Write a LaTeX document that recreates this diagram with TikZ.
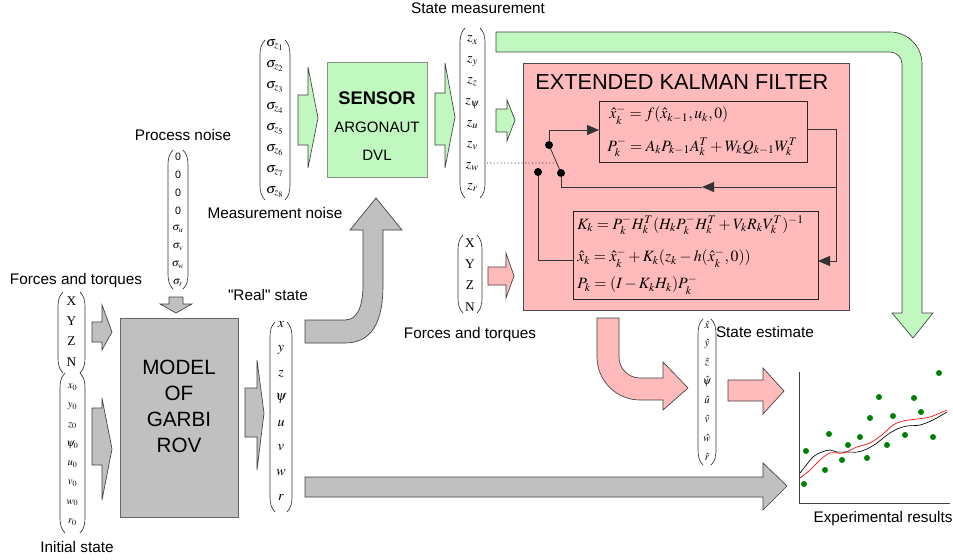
\documentclass[tikz,border=0pt]{standalone}
\usepackage{mathptmx}
\usepackage[no-math]{fontspec}
\setmainfont{Liberation Sans}
\newfontfamily\plainsans{Liberation Sans}
\newfontfamily\timesfont{Liberation Serif}
\usetikzlibrary{arrows.meta,fit,calc}
\definecolor{lgreen}{RGB}{192,248,192}
\definecolor{lpink}{RGB}{255,187,187}
\definecolor{lgray}{RGB}{192,192,192}
\definecolor{dotgreen}{RGB}{0,128,0}

% column vector: name, entry style, x left, x right, top, bottom, first y, step, entries
\newcommand\colvec[9]{%
  \draw[paren] (#3+5,#5) .. controls (#3+1,#5+4) and (#3,#5+9) .. (#3,#5+15) -- (#3,#6-15) .. controls (#3,#6-9) and (#3+1,#6-4) .. (#3+5,#6);
  \draw[paren] (#4-5,#5) .. controls (#4-1,#5+4) and (#4,#5+9) .. (#4,#5+15) -- (#4,#6-15) .. controls (#4,#6-9) and (#4-1,#6-4) .. (#4-5,#6);
  \foreach \e [count=\i from 0] in {#9} \node[#2] (#1\i) at ({(#3+#4)/2},{#7+#8*\i}) {\e};
}

\begin{document}
\begin{tikzpicture}[x=0.75pt,y=-0.75pt,
  paren/.style={line width=0.5pt,draw=black!80},
  lbl/.style={font=\fontsize{11.5}{13}\selectfont,inner sep=0},
  entA/.style={font=\fontsize{10.5}{12}\selectfont,inner sep=0},
  entB/.style={font=\fontsize{8}{9}\selectfont,inner sep=0},
  entC/.style={font=\timesfont\fontsize{10}{12}\selectfont,inner sep=0},
  blk/.style={draw=black!75,line width=0.5pt},
  box/.style={inner sep=0,line width=0.6pt},
  eq/.style={font=\fontsize{11.8}{13}\selectfont,inner sep=0,anchor=west},
  wire/.style={line width=0.6pt,draw=black!80},
  tip/.style={-{Triangle[length=9pt,width=7.5pt]}},
  swdot/.style={circle,fill=black,inner sep=0,minimum size=6pt}]
\useasboundingbox (0,0) rectangle (953,560);

% ---------- labels ----------
\node[lbl] (lblMeas) at (478,8) {State measurement};
\node[lbl] (lblProc) at (183,135) {Process noise};
\node[lbl] (lblMnoise) at (275,213) {Measurement noise};
\node[lbl] (lblFT1) at (76,281) {Forces and torques};
\node[lbl] (lblReal) at (268,295) {\plainsans "Real" state};
\node[lbl] (lblInit) at (77,547) {Initial state};
\node[lbl] (lblFT2) at (470,335) {Forces and torques};
\node[lbl] (lblEst) at (765,332) {State estimate};
\node[lbl] (lblExp) at (883,519) {Experimental results};

% ---------- block arrows ----------
% green: noise -> sensor, sensor -> measurement, measurement -> filter
\filldraw[blk,fill=lgreen] (298,95) -- (308,95) -- (308,67) -- (318,118) -- (308,168) -- (308,145) -- (298,145) -- cycle;
\filldraw[blk,fill=lgreen] (435,93) -- (445,93) -- (445,63) -- (455,117) -- (445,168) -- (445,145) -- (435,145) -- cycle;
\filldraw[blk,fill=lgreen] (496,109) -- (507,109) -- (507,100) -- (515,120) -- (507,141) -- (507,132) -- (496,132) -- cycle;
% green: measurement -> results
\filldraw[blk,fill=lgreen] (496,32) -- (890,32) .. controls (907.7,32) and (922,46.3) .. (922,64) -- (922,313) -- (933,313) -- (913,338) -- (892,313) -- (902,313) -- (902,64) .. controls (902,57.4) and (896.6,52) .. (890,52) -- (496,52) -- cycle;
% pink: forces -> filter, filter -> estimate, estimate -> results
\filldraw[blk,fill=lpink] (488,267) -- (506,267) -- (506,253) -- (514,276) -- (506,298) -- (506,285) -- (488,285) -- cycle;
\filldraw[blk,fill=lpink] (597,318) -- (619,318) -- (619,357) .. controls (619,368.6) and (628.4,378) .. (640,378) -- (663,378) -- (663,362) -- (688,388) -- (663,410) -- (663,400) -- (640,400) .. controls (616.3,400) and (597,380.7) .. (597,357) -- cycle;
\filldraw[blk,fill=lpink] (728,380) -- (763,380) -- (763,368) -- (784,391) -- (763,414) -- (763,401) -- (728,401) -- cycle;
% gray: inputs -> model, model -> state, state -> sensor, state -> results
\filldraw[blk,fill=lgray] (169,297) -- (183,297) -- (183,304) -- (192,304) -- (176,313) -- (160,304) -- (169,304) -- cycle;
\filldraw[blk,fill=lgray] (92,322) -- (102,322) -- (102,305) -- (112,332) -- (102,350) -- (102,342) -- (92,342) -- cycle;
\filldraw[blk,fill=lgray] (92,408) -- (102,408) -- (102,398) -- (112,449) -- (102,500) -- (102,465) -- (92,465) -- cycle;
\filldraw[blk,fill=lgray] (245,388) -- (257,388) -- (257,360) -- (264,413) -- (257,470) -- (257,437) -- (245,437) -- cycle;
\filldraw[blk,fill=lgray] (305,320) -- (345,320) .. controls (358,320) and (363,305) .. (363,285) -- (363,230) -- (350,230) -- (376,198) -- (402,230) -- (383,230) -- (383,285) .. controls (383,325) and (370,343) .. (345,343) -- (305,343) -- cycle;
\filldraw[blk,fill=lgray] (305,477) -- (763,477) -- (763,463) -- (787,486) -- (763,510) -- (763,497) -- (305,497) -- cycle;

% ---------- vectors ----------
\colvec{sg}{entA}{260}{290}{40}{200}{45}{21}{$\sigma_{z_1}$,$\sigma_{z_2}$,$\sigma_{z_3}$,$\sigma_{z_4}$,$\sigma_{z_5}$,$\sigma_{z_6}$,$\sigma_{z_7}$,$\sigma_{z_8}$}
\colvec{zm}{entA}{460}{485}{28}{198}{40}{21.1}{$z_x$,$z_y$,$z_z$,$z_\psi$,$z_u$,$z_v$,$z_w$,$z_r$}
\colvec{pn}{entB}{168}{188}{150}{289}{157}{18}{0,0,0,0,$\sigma_u$,$\sigma_v$,$\sigma_w$,$\sigma_r$}
\colvec{fa}{entC}{58}{85}{292}{373}{301}{20.3}{X,Y,Z,N}
\colvec{is}{entB}{60}{85}{373}{533}{387}{19.3}{$x_0$,$y_0$,$z_0$,$\psi_0$,$u_0$,$v_0$,$w_0$,$r_0$}
\colvec{rs}{entA}{270}{292}{322}{512}{325}{24.6}{$x$,$y$,$z$,$\psi$,$u$,$v$,$w$,$r$}
\colvec{fb}{entC}{458}{482}{235}{313}{243}{21.3}{X,Y,Z,N}
\colvec{se}{entB}{698}{716}{319}{465}{325}{18.8}{$\hat x$,$\hat y$,$\hat z$,$\hat\psi$,$\hat u$,$\hat v$,$\hat w$,$\hat r$}

% ---------- sensor ----------
\node[box,fit={(327,62) (427,177)},draw=black!45,fill=lgreen] (sensor) {};
\node[font=\bfseries\fontsize{13.7}{15}\selectfont] (sensorA) at (377,98) {SENSOR};
\node[font=\fontsize{11.3}{13}\selectfont] (sensorB) at (377,127) {ARGONAUT};
\node[font=\fontsize{11.3}{13}\selectfont] (sensorC) at (377,155) {DVL};

% ---------- model ----------
\node[box,fit={(120,318) (238,517)},draw=black!60,fill=lgray] (model) {};
\foreach \t/\y [count=\i] in {MODEL/367,OF/393,GARBI/419,ROV/445}
  \node[font=\fontsize{15.5}{17}\selectfont] (modelT\i) at (179,\y) {\t};

% ---------- extended Kalman filter ----------
\node[box,fit={(523,63) (849,310)},draw=black!70,fill=lpink] (ekf) {};
\node[font=\fontsize{16.3}{18}\selectfont,anchor=west,inner sep=0] (ekfT) at (535,82) {EXTENDED KALMAN FILTER};
\node[box,fit={(599,101) (807,162)},draw=black!85,fill=lpink] (pred) {};
\node[box,fit={(573,211) (818,299)},draw=black!85,fill=lpink] (upd) {};
\node[eq] (eq1) at (609,115) {$\hat{x}_k^- = f(\hat{x}_{k-1},u_k,0)$};
\node[eq] (eq2) at (607,147) {$P_k^- = A_kP_{k-1}A_k^T + W_kQ_{k-1}W_k^T$};
\node[eq] (eq3) at (577,225) {$K_k = P_k^-H_k^T(H_kP_k^-H_k^T + V_kR_kV_k^T)^{-1}$};
\node[eq] (eq4) at (577,258) {$\hat{x}_k = \hat{x}_k^- + K_k(z_k - h(\hat{x}_k^-,0))$};
\node[eq] (eq5) at (577,285) {$P_k = (I - K_kH_k)P_k^-$};

% switch and feedback wiring
\coordinate (swA) at (549,145);
\coordinate (swB) at (561,173);
\coordinate (swC) at (538,172);
\coordinate (predIn) at (599,130);
\coordinate (predOut) at (807,129);
\coordinate (fbR) at (836,187);
\coordinate (fbMid) at (702,187);
\coordinate (fbL) at (561,187);
\coordinate (updIn) at (818,261);
\coordinate (updL) at (573,260);
\coordinate (zmOut) at (487,163);
\draw[wire,tip] (swA) |- (predIn);
\draw[wire] (predOut) -| (fbR);
\draw[wire,tip] (fbR) |- (updIn);
\draw[wire,tip] (fbR) -- (fbMid);
\draw[wire] (fbMid) -- (fbL) -- (swB);
\draw[wire] (swC) |- (updL);
\draw[wire] (swA) -- (swB);
\draw[dotted,line width=0.6pt] (zmOut) -- ($(swA)!0.64!(swB)$);
\node[swdot] (swAdot) at (swA) {};
\node[swdot] (swBdot) at (swB) {};
\node[swdot] (swCdot) at (swC) {};

% ---------- results chart ----------
\draw[line width=0.6pt,draw=black!75] (799,372) -- (799,503) -- (950,503);
\draw[black,line width=0.5pt] plot[smooth] coordinates {(800,473) (813,457) (822,452) (830,450) (837,452) (847,452) (858,452) (867,449) (877,443) (887,435) (897,429) (907,426) (920,425) (933,420) (947,412)};
\draw[red,line width=0.5pt] plot[smooth] coordinates {(800,478) (810,470) (820,460) (830,453) (843,453) (857,447) (870,443) (883,434) (893,425) (903,421) (917,419) (930,417) (947,410)};
\foreach \p in {(806,451),(804,484),(829,434),(825,470),(842,460),(848,445),(860,437),(867,458),(870,418),(879,397),(887,445),(893,416),(905,435),(914,398),(921,412),(933,437),(939,373)}
  \fill[dotgreen] \p circle (3);
\end{tikzpicture}
\end{document}
